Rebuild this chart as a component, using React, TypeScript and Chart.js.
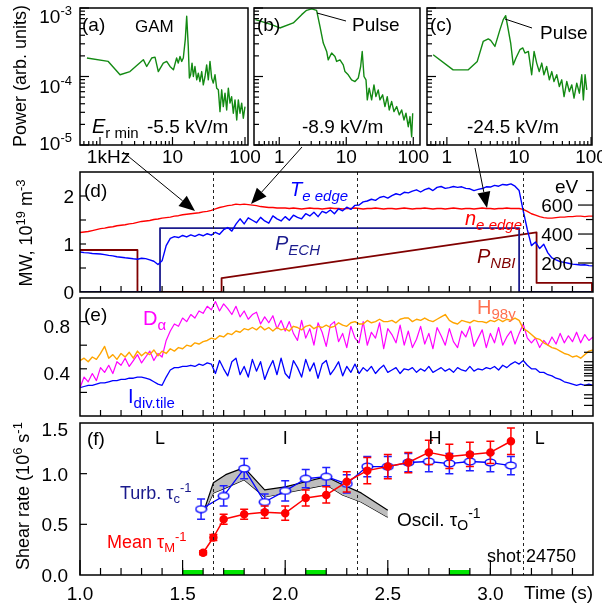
import React, { useEffect, useRef } from "react";
import { Chart, registerables } from "chart.js";

Chart.register(...registerables);

const FONT = '"Liberation Sans", Arial, Helvetica, sans-serif';

// ===== Spectra (a)-(c): frequency (kHz) and power (arb. units) =====
const A_FREQ = [0.66, 1.30, 1.89, 2.59, 3.96, 4.41, 5.16, 5.74, 6.37, 7.46, 8.32, 9.24, 10.3, 11.4, 12.0, 12.7, 13.4, 14.1, 15.0, 15.7, 16.5, 17.1, 17.8, 18.6, 19.4, 20.4, 21.6, 22.7, 23.9, 25.3, 26.6, 28.1, 29.6, 31.2, 32.9, 34.7, 36.5, 38.6, 40.7, 42.9, 45.2, 47.7, 50.2, 53.0, 55.9, 58.9, 62.1, 65.4, 69.0, 72.8, 76.9, 80.9, 85.3, 90.0, 94.8, 100];
const A_POW = [1.86e-4, 1.66e-4, 1.06e-4, 1.18e-4, 1.76e-4, 1.40e-4, 1.86e-4, 1.92e-4, 1.18e-4, 1.57e-4, 1.66e-4, 1.40e-4, 1.25e-4, 1.86e-4, 1.57e-4, 1.96e-4, 1.66e-4, 1.86e-4, 3.45e-4, 7.56e-4, 2.75e-4, 9.48e-5, 1.06e-4, 1.57e-4, 1.0e-4, 1.40e-4, 8.95e-5, 1.12e-4, 8.45e-5, 1.18e-4, 7.55e-5, 1.0e-4, 1.48e-4, 8.95e-5, 1.66e-4, 9.48e-5, 8.0e-5, 1.06e-4, 6.76e-5, 6.39e-5, 3.07e-5, 6.39e-5, 3.64e-5, 5.71e-5, 3.25e-5, 6.76e-5, 4.08e-5, 5.09e-5, 2.91e-5, 4.56e-5, 2.32e-5, 4.56e-5, 2.91e-5, 4.08e-5, 2.46e-5, 3.64e-5];
const B_FREQ = [0.44, 0.77, 1.02, 1.62, 2.16, 2.56, 3.05, 3.61, 4.05, 4.54, 5.10, 5.38, 6.05, 6.78, 7.19, 8.06, 9.02, 9.57, 10.7, 12.0, 13.5, 15.1, 16.4, 17.3, 18.4, 19.7, 20.6, 22.0, 23.9, 25.9, 27.7, 30.0, 31.8, 34.9, 37.8, 40.9, 43.8, 47.6, 51.5, 56.5, 61.8, 67.1, 72.6, 77.8, 84.2, 89.3, 94.6, 98.0];
const B_POW = [6.76e-4, 5.71e-4, 5.11e-4, 6.05e-4, 8.0e-4, 9.25e-4, 9.70e-4, 9.25e-4, 5.40e-4, 3.08e-4, 2.32e-4, 1.75e-4, 2.20e-4, 1.96e-4, 1.66e-4, 1.75e-4, 1.48e-4, 1.18e-4, 1.06e-4, 8.95e-5, 8.45e-5, 9.48e-5, 1.40e-4, 2.32e-4, 1.0e-4, 8.95e-5, 4.56e-5, 6.76e-5, 4.56e-5, 7.55e-5, 5.09e-5, 6.38e-5, 4.56e-5, 5.40e-5, 3.64e-5, 5.09e-5, 3.25e-5, 4.31e-5, 3.07e-5, 3.64e-5, 2.75e-5, 3.25e-5, 2.32e-5, 2.91e-5, 1.85e-5, 2.60e-5, 1.32e-5, 2.91e-5];
const C_FREQ = [0.645, 1.22, 1.98, 2.64, 3.19, 3.75, 4.05, 4.64, 5.45, 6.05, 6.54, 7.10, 7.67, 8.33, 9.08, 10.3, 11.3, 12.1, 13.5, 15.0, 16.2, 17.6, 19.1, 20.7, 22.2, 24.2, 26.4, 28.5, 30.6, 33.4, 36.3, 39.2, 42.2, 46.0, 50.0, 54.0, 58.0, 63.3, 68.8, 74.3, 78.2, 82.6, 87.1];
const C_POW = [2.08e-4, 1.25e-4, 1.25e-4, 1.66e-4, 3.25e-4, 3.53e-4, 3.37e-4, 2.75e-4, 4.83e-4, 6.76e-4, 7.74e-4, 4.83e-4, 3.08e-4, 1.48e-4, 1.86e-4, 2.46e-4, 2.61e-4, 2.20e-4, 2.32e-4, 1.06e-4, 2.32e-4, 1.57e-4, 1.18e-4, 1.57e-4, 1.06e-4, 1.40e-4, 8.95e-5, 1.18e-4, 8.45e-5, 1.06e-4, 7.14e-5, 8.95e-5, 5.09e-5, 8.45e-5, 6.03e-5, 7.55e-5, 4.83e-5, 8.0e-5, 5.71e-5, 1.06e-4, 4.56e-5, 1.06e-4, 6.38e-5];
const TOP_X_MAJOR = [1, 10, 100];
const TOP_X_MINOR = [0.5, 0.6, 0.7, 0.8, 0.9, 2, 3, 4, 5, 6, 7, 8, 9, 20, 30, 40, 50, 60, 70, 80, 90];
const TOP_Y_MAJOR = [1e-5, 1e-4, 1e-3];
const TOP_Y_MINOR = [2e-5, 3e-5, 4e-5, 5e-5, 6e-5, 7e-5, 8e-5, 9e-5, 2e-4, 3e-4, 4e-4, 5e-4, 6e-4, 7e-4, 8e-4, 9e-4];

// ===== Time traces (d),(e) =====
const TIME = [
  1.00, 1.02, 1.04, 1.06, 1.08, 1.10, 1.12, 1.14, 1.16, 1.18,
  1.20, 1.22, 1.24, 1.26, 1.28, 1.30, 1.32, 1.34, 1.36, 1.38,
  1.40, 1.42, 1.44, 1.46, 1.48, 1.50, 1.52, 1.54, 1.56, 1.58,
  1.60, 1.62, 1.64, 1.66, 1.68, 1.70, 1.72, 1.74, 1.76, 1.78,
  1.80, 1.82, 1.84, 1.86, 1.88, 1.90, 1.92, 1.94, 1.96, 1.98,
  2.00, 2.02, 2.04, 2.06, 2.08, 2.10, 2.12, 2.14, 2.16, 2.18,
  2.20, 2.22, 2.24, 2.26, 2.28, 2.30, 2.32, 2.34, 2.36, 2.38,
  2.40, 2.42, 2.44, 2.46, 2.48, 2.50, 2.52, 2.54, 2.56, 2.58,
  2.60, 2.62, 2.64, 2.66, 2.68, 2.70, 2.72, 2.74, 2.76, 2.78,
  2.80, 2.82, 2.84, 2.86, 2.88, 2.90, 2.92, 2.94, 2.96, 2.98,
  3.00, 3.02, 3.04, 3.06, 3.08, 3.10, 3.12, 3.14, 3.16, 3.18,
  3.20, 3.22, 3.24, 3.26, 3.28, 3.30, 3.32, 3.34, 3.36, 3.38,
  3.40, 3.42, 3.44, 3.46, 3.48, 3.50,
];
const NE_EDGE = [
  1.24, 1.25, 1.26, 1.28, 1.30, 1.32, 1.33, 1.35, 1.36, 1.38,
  1.39, 1.40, 1.42, 1.43, 1.45, 1.47, 1.48, 1.49, 1.51, 1.52,
  1.54, 1.55, 1.56, 1.58, 1.59, 1.61, 1.62, 1.63, 1.64, 1.65,
  1.67, 1.68, 1.70, 1.73, 1.76, 1.78, 1.80, 1.81, 1.83, 1.82,
  1.83, 1.82, 1.81, 1.80, 1.78, 1.77, 1.76, 1.76, 1.75, 1.75,
  1.75, 1.74, 1.75, 1.74, 1.73, 1.74, 1.75, 1.74, 1.74, 1.73,
  1.74, 1.75, 1.74, 1.74, 1.73, 1.74, 1.74, 1.75, 1.74, 1.73,
  1.74, 1.74, 1.75, 1.74, 1.73, 1.74, 1.74, 1.73, 1.74, 1.75,
  1.74, 1.73, 1.74, 1.74, 1.75, 1.74, 1.73, 1.74, 1.74, 1.73,
  1.74, 1.75, 1.74, 1.73, 1.74, 1.74, 1.73, 1.74, 1.75, 1.74,
  1.74, 1.73, 1.74, 1.74, 1.75, 1.74, 1.74, 1.74, 1.72, 1.68,
  1.63, 1.60, 1.57, 1.55, 1.54, 1.54, 1.55, 1.56, 1.56, 1.57,
  1.57, 1.58, 1.58, 1.57, 1.58, 1.58,
];
const TE_EDGE = [
  276, 272, 270, 266, 264, 262, 258, 253, 249, 243,
  240, 236, 233, 229, 226, 233, 230, 222, 212, 190,
  215, 320, 370, 382, 376, 390, 380, 394, 384, 398,
  388, 402, 392, 412, 398, 430, 445, 420, 468, 505,
  470, 512, 495, 478, 515, 490, 475, 525, 505, 490,
  520, 495, 530, 515, 505, 540, 525, 550, 520, 556,
  545, 566, 540, 574, 560, 585, 570, 598, 600, 622,
  628, 640, 632, 652, 660, 648, 665, 678, 670, 688,
  684, 696, 705, 690, 706, 716, 700, 722, 728, 715,
  720, 728, 722, 726, 715, 712, 700, 708, 714, 726,
  724, 736, 730, 742, 738, 746, 730, 700, 560, 430,
  320, 345, 300, 330, 270, 235, 222, 210, 204, 198,
  192, 190, 186, 188, 182, 180,
];
const PECH_T = [1.0, 1.39, 1.39, 3.14, 3.14, 3.5];
const PECH_V = [0, 0, 1.33, 1.33, 0, 0];
const PNBI_T = [1.0, 1.28, 1.28, 1.69, 1.69, 3.225, 3.225, 3.495, 3.495];
const PNBI_V = [0.875, 0.875, 0, 0, 0.29, 1.24, 0.19, 0.19, 0];
const D_ALPHA = [
  0.24, 0.33, 0.29, 0.36, 0.30, 0.41, 0.37, 0.43, 0.36, 0.46,
  0.43, 0.49, 0.42, 0.47, 0.52, 0.45, 0.50, 0.55, 0.47, 0.53,
  0.50, 0.64, 0.72, 0.78, 0.76, 0.83, 0.80, 0.86, 0.83, 0.89,
  0.87, 0.93, 0.90, 0.97, 0.89, 0.95, 0.91, 0.86, 0.93, 0.84,
  0.89, 0.82, 0.86, 0.88, 0.78, 0.84, 0.79, 0.85, 0.74, 0.81,
  0.72, 0.80, 0.70, 0.64, 0.81, 0.66, 0.74, 0.60, 0.79, 0.71,
  0.59, 0.77, 0.80, 0.63, 0.70, 0.58, 0.76, 0.66, 0.62, 0.80,
  0.60, 0.71, 0.66, 0.79, 0.57, 0.74, 0.69, 0.62, 0.77, 0.60,
  0.72, 0.58, 0.65, 0.76, 0.61, 0.70, 0.57, 0.75, 0.68, 0.60,
  0.74, 0.63, 0.58, 0.72, 0.67, 0.76, 0.59, 0.66, 0.73, 0.58,
  0.70, 0.62, 0.75, 0.60, 0.67, 0.72, 0.61, 0.70, 0.78, 0.66,
  0.62, 0.66, 0.58, 0.64, 0.60, 0.67, 0.61, 0.70, 0.62, 0.68,
  0.63, 0.71, 0.62, 0.69, 0.64, 0.67,
];
const H98Y = [
  0.47, 0.49, 0.46, 0.50, 0.48, 0.53, 0.59, 0.49, 0.52, 0.48,
  0.53, 0.50, 0.54, 0.49, 0.55, 0.51, 0.54, 0.52, 0.56, 0.51,
  0.55, 0.53, 0.57, 0.55, 0.58, 0.57, 0.60, 0.59, 0.62, 0.61,
  0.63, 0.64, 0.66, 0.65, 0.68, 0.67, 0.70, 0.69, 0.72, 0.71,
  0.74, 0.73, 0.75, 0.73, 0.76, 0.73, 0.75, 0.72, 0.75, 0.73,
  0.74, 0.72, 0.76, 0.75, 0.73, 0.76, 0.77, 0.74, 0.76, 0.75,
  0.77, 0.75, 0.76, 0.79, 0.77, 0.76, 0.79, 0.80, 0.78, 0.78,
  0.81, 0.79, 0.80, 0.82, 0.80, 0.80, 0.81, 0.79, 0.82, 0.83,
  0.83, 0.80, 0.82, 0.81, 0.83, 0.81, 0.80, 0.82, 0.84, 0.86,
  0.81, 0.79, 0.78, 0.81, 0.80, 0.79, 0.81, 0.80, 0.80, 0.79,
  0.81, 0.80, 0.82, 0.80, 0.82, 0.81, 0.83, 0.81, 0.74, 0.72,
  0.69, 0.66, 0.65, 0.62, 0.60, 0.58, 0.57, 0.55, 0.53, 0.52,
  0.50, 0.51, 0.49, 0.52, 0.55, 0.56,
];
const I_DIV = [
  0.24, 0.25, 0.26, 0.26, 0.27, 0.28, 0.28, 0.29, 0.30, 0.30,
  0.31, 0.31, 0.32, 0.32, 0.33, 0.33, 0.32, 0.31, 0.29, 0.27,
  0.26, 0.33, 0.39, 0.41, 0.41, 0.42, 0.42, 0.43, 0.42, 0.44,
  0.43, 0.45, 0.44, 0.36, 0.47, 0.40, 0.34, 0.46, 0.49, 0.35,
  0.42, 0.33, 0.48, 0.38, 0.46, 0.31, 0.40, 0.47, 0.35, 0.49,
  0.36, 0.32, 0.47, 0.41, 0.33, 0.48, 0.38, 0.45, 0.32, 0.44,
  0.47, 0.35, 0.40, 0.46, 0.34, 0.42, 0.37, 0.44, 0.36, 0.41,
  0.38, 0.42, 0.36, 0.40, 0.43, 0.37, 0.39, 0.41, 0.36, 0.40,
  0.39, 0.41, 0.37, 0.40, 0.38, 0.42, 0.37, 0.39, 0.41, 0.38,
  0.40, 0.37, 0.41, 0.39, 0.38, 0.42, 0.38, 0.40, 0.39, 0.41,
  0.40, 0.42, 0.39, 0.43, 0.41, 0.44, 0.46, 0.44, 0.47, 0.43,
  0.40, 0.40, 0.37, 0.37, 0.35, 0.34, 0.32, 0.31, 0.29, 0.28,
  0.27, 0.26, 0.27, 0.26, 0.27, 0.26,
];

// ===== Shear rates (f) =====
const TURB_T = [1.59, 1.70, 1.80, 1.90, 2.00, 2.10, 2.20, 2.30, 2.40, 2.50, 2.60, 2.70, 2.80, 2.90, 3.00, 3.10];
const TURB_V = [0.65, 0.78, 1.05, 0.72, 0.83, 0.95, 0.97, 0.90, 1.07, 1.07, 1.11, 1.12, 1.10, 1.12, 1.11, 1.08];
const TURB_E = [0.10, 0.10, 0.10, 0.08, 0.10, 0.09, 0.09, 0.09, 0.10, 0.10, 0.09, 0.10, 0.10, 0.09, 0.09, 0.09];
const MEAN_T = [1.60, 1.65, 1.70, 1.80, 1.90, 2.00, 2.10, 2.20, 2.30, 2.40, 2.50, 2.60, 2.70, 2.80, 2.90, 3.00, 3.10];
const MEAN_V = [0.22, 0.37, 0.55, 0.60, 0.62, 0.61, 0.76, 0.79, 0.92, 1.03, 1.07, 1.11, 1.21, 1.17, 1.19, 1.21, 1.32];
const MEAN_E = [0.02, 0.03, 0.05, 0.05, 0.06, 0.07, 0.08, 0.08, 0.10, 0.13, 0.12, 0.10, 0.12, 0.12, 0.12, 0.11, 0.13];
const OSC_T = [1.61, 1.65, 1.71, 1.80, 1.90, 2.00, 2.10, 2.20, 2.28, 2.37, 2.50];
const OSC_HI = [0.67, 0.91, 0.99, 1.06, 0.84, 0.87, 0.92, 0.97, 0.89, 0.81, 0.64];
const OSC_LO = [0.64, 0.81, 0.86, 0.94, 0.77, 0.81, 0.85, 0.89, 0.79, 0.72, 0.57];
const GREEN_WINDOWS = [[1.5, 1.6], [1.7, 1.8], [2.1, 2.2], [2.8, 2.9]];
const TRANSITIONS = [1.65, 2.35, 3.16];
const PHASES = [["L", 1.39], ["I", 2.0], ["H", 2.73], ["L", 3.24]];

// ===== Axis ticks =====
const TIME_TICKS = [1.0, 1.5, 2.0, 2.5, 3.0];
const TIME_MINOR = [1.1, 1.2, 1.3, 1.4, 1.5, 1.6, 1.7, 1.8, 1.9, 2.0, 2.1, 2.2, 2.3, 2.4, 2.5, 2.6, 2.7, 2.8, 2.9, 3.0, 3.1, 3.2, 3.3, 3.4];
const D_LEFT_TICKS = [0.5, 1, 1.5, 2];
const D_LEFT_LABELS = [0, 1, 2];
const D_RIGHT_MINOR = [100, 300, 500, 700];
const D_RIGHT_LABELS = [200, 400, 600];
const E_LEFT_TICKS = [0.2, 0.4, 0.6, 0.8];
const E_LEFT_LABELS = [0.4, 0.8];
const E_RIGHT_TICKS = [0.54, 0.46, 0.43, 0.41, 0.39, 0.36, 0.34, 0.30, 0.26, 0.18, 0.15, 0.09];
const F_LEFT_TICKS = [0.5, 1.0];
const F_LEFT_LABELS = [0, 0.5, 1.0, 1.5];

// ---------------------------------------------------------------
type Part = { t: string; s: number; i?: boolean; dy?: number };
const P = (t: string, s: number, i = false, dy = 0): Part => ({ t, s, i, dy });
type TextItem = { x: number; y: number; parts: Part[]; color?: string; align?: string; rot?: boolean };
type TickSet = { axis: string; side: string; values: number[]; len: number };
type LabelItem = { axis: string; side: string; value: number; parts: Part[]; gap: number; dy?: number; dx?: number };
type DecorCfg = { ox: number; oy: number; vlines?: number[]; ticks: TickSet[]; labels: LabelItem[]; texts: TextItem[] };

const fontOf = (p: Part) => `${p.i ? "italic " : ""}${p.s}px ${FONT}`;

function drawRich(ctx: CanvasRenderingContext2D, parts: Part[], x: number, y: number, align = "left", color = "#000") {
  let w = 0;
  for (const p of parts) { ctx.font = fontOf(p); w += ctx.measureText(p.t).width; }
  let cx = align === "left" ? x : align === "center" ? x - w / 2 : x - w;
  ctx.fillStyle = color;
  ctx.textAlign = "left";
  ctx.textBaseline = "alphabetic";
  for (const p of parts) {
    ctx.font = fontOf(p);
    ctx.fillText(p.t, cx, y + (p.dy || 0));
    cx += ctx.measureText(p.t).width;
  }
}

function makeDecor(cfg: DecorCfg) {
  return {
    id: "decor",
    beforeDatasetDraw(chart: any, args: any) {
      const ds: any = chart.data.datasets[args.index];
      if (!ds.errorBars) return;
      const ctx = chart.ctx;
      const ys = chart.scales.y;
      ctx.save();
      ctx.strokeStyle = ds.errorColor;
      ctx.lineWidth = 1.5;
      args.meta.data.forEach((el: any, i: number) => {
        const d = ds.data[i];
        const e = ds.errorBars[i];
        const y0 = ys.getPixelForValue(d.y - e);
        const y1 = ys.getPixelForValue(d.y + e);
        ctx.beginPath();
        ctx.moveTo(el.x, y0); ctx.lineTo(el.x, y1);
        ctx.moveTo(el.x - 4, y0); ctx.lineTo(el.x + 4, y0);
        ctx.moveTo(el.x - 4, y1); ctx.lineTo(el.x + 4, y1);
        ctx.stroke();
      });
      ctx.restore();
    },
    afterDatasetsDraw(chart: any) {
      const ctx: CanvasRenderingContext2D = chart.ctx;
      const a = chart.chartArea;
      ctx.save();
      if (cfg.vlines) {
        const xs = chart.scales.x;
        ctx.strokeStyle = "#222";
        ctx.lineWidth = 1;
        ctx.setLineDash([3, 3]);
        for (const v of cfg.vlines) {
          const px = Math.round(xs.getPixelForValue(v)) + 0.5;
          ctx.beginPath(); ctx.moveTo(px, a.top); ctx.lineTo(px, a.bottom); ctx.stroke();
        }
        ctx.setLineDash([]);
      }
      ctx.strokeStyle = "#000";
      ctx.lineWidth = 1.2;
      for (const t of cfg.ticks) {
        const sc = chart.scales[t.axis];
        for (const v of t.values) {
          const p = sc.getPixelForValue(v);
          ctx.beginPath();
          if (t.side === "bottom") {
            if (p < a.left - 0.5 || p > a.right + 0.5) continue;
            ctx.moveTo(p, a.bottom); ctx.lineTo(p, a.bottom - t.len);
          } else if (t.side === "left") {
            if (p < a.top - 0.5 || p > a.bottom + 0.5) continue;
            ctx.moveTo(a.left, p); ctx.lineTo(a.left + t.len, p);
          } else {
            if (p < a.top - 0.5 || p > a.bottom + 0.5) continue;
            ctx.moveTo(a.right, p); ctx.lineTo(a.right - t.len, p);
          }
          ctx.stroke();
        }
      }
      ctx.lineWidth = 1.5;
      ctx.strokeRect(a.left, a.top, a.right - a.left, a.bottom - a.top);
      for (const l of cfg.labels) {
        const sc = chart.scales[l.axis];
        const p = sc.getPixelForValue(l.value);
        const size = l.parts[0].s;
        if (l.side === "bottom") drawRich(ctx, l.parts, p + (l.dx || 0), a.bottom + l.gap, "center");
        else if (l.side === "left") drawRich(ctx, l.parts, a.left - l.gap, p + (l.dy ?? size * 0.36), "right");
        else drawRich(ctx, l.parts, a.right - l.gap, p + (l.dy ?? size * 0.36), "right");
      }
      ctx.translate(-cfg.ox, -cfg.oy);
      for (const t of cfg.texts) {
        if (t.rot) {
          ctx.save();
          ctx.translate(t.x, t.y);
          ctx.rotate(-Math.PI / 2);
          drawRich(ctx, t.parts, 0, 0, "center", t.color || "#000");
          ctx.restore();
        } else drawRich(ctx, t.parts, t.x, t.y, t.align || "left", t.color || "#000");
      }
      ctx.restore();
    },
  };
}

const xy = (xs: number[], ys: (number | null)[]) => xs.map((x, i) => ({ x, y: ys[i] }));

const base = (padding: any) => ({
  animation: false,
  responsive: false,
  maintainAspectRatio: false,
  events: [],
  layout: { padding },
  plugins: { legend: { display: false }, tooltip: { enabled: false } },
  elements: { point: { radius: 0 }, line: { tension: 0, borderJoinStyle: "round" } },
});

const GREEN = "#138a13";
const tickTxt = (s: string) => [P(s, 19)];

function topTicks(): TickSet[] {
  return [
    { axis: "x", side: "bottom", values: TOP_X_MINOR, len: 4 },
    { axis: "x", side: "bottom", values: TOP_X_MAJOR, len: 8 },
    { axis: "y", side: "left", values: TOP_Y_MINOR, len: 5 },
    { axis: "y", side: "left", values: TOP_Y_MAJOR, len: 9 },
  ];
}

function spectrumConfig(freq: number[], pow: number[], xmin: number, xmax: number, padding: any, decor: DecorCfg) {
  return {
    type: "line",
    data: { datasets: [{ data: xy(freq, pow), borderColor: GREEN, borderWidth: 1.4, pointRadius: 0 }] },
    options: {
      ...base(padding),
      scales: {
        x: { type: "logarithmic", min: xmin, max: xmax, display: false },
        y: { type: "logarithmic", min: 1e-5, max: 1e-3, display: false },
      },
    },
    plugins: [makeDecor(decor)],
  };
}

const buildA = () =>
  spectrumConfig(A_FREQ, A_POW, 0.53, 110, { left: 80, right: 22, top: 8, bottom: 25 }, {
    ox: 0, oy: 0,
    ticks: topTicks(),
    labels: [
      { axis: "y", side: "left", value: 1e-3, parts: [P("10", 19), P("-3", 13, false, -8)], gap: 8, dy: 15 },
      { axis: "y", side: "left", value: 1e-4, parts: [P("10", 19), P("-4", 13, false, -8)], gap: 8, dy: 16.5 },
      { axis: "y", side: "left", value: 1e-5, parts: [P("10", 19), P("-5", 13, false, -8)], gap: 8, dy: 5 },
      { axis: "x", side: "bottom", value: 1, parts: tickTxt("1kHz"), gap: 18, dx: 8.5 },
      { axis: "x", side: "bottom", value: 10, parts: tickTxt("10"), gap: 18 },
      { axis: "x", side: "bottom", value: 100, parts: tickTxt("100"), gap: 18 },
    ],
    texts: [
      { x: 82, y: 31, parts: [P("(a)", 19)] },
      { x: 135, y: 32, parts: [P("GAM", 17)] },
      { x: 92, y: 133, parts: [P("E", 20, true), P("r min", 15, false, 5)] },
      { x: 147, y: 133, parts: [P("-5.5 kV/m", 19)] },
      { x: 26, y: 76, rot: true, parts: [P("Power (arb. units)", 18)] },
    ],
  });

const buildB = () =>
  spectrumConfig(B_FREQ, B_POW, 0.42, 126, { left: 80, right: 24, top: 8, bottom: 25 }, {
    ox: 174, oy: 0,
    ticks: topTicks(),
    labels: [
      { axis: "x", side: "bottom", value: 1, parts: tickTxt("1"), gap: 18 },
      { axis: "x", side: "bottom", value: 10, parts: tickTxt("10"), gap: 18 },
      { axis: "x", side: "bottom", value: 100, parts: tickTxt("100"), gap: 18 },
    ],
    texts: [
      { x: 257, y: 31, parts: [P("(b)", 19)] },
      { x: 352, y: 31, parts: [P("Pulse", 19)] },
      { x: 302, y: 133, parts: [P("-8.9 kV/m", 19)] },
    ],
  });

const buildC = () =>
  spectrumConfig(C_FREQ, C_POW, 0.53, 103, { left: 80, right: 10, top: 8, bottom: 25 }, {
    ox: 347, oy: 0,
    ticks: topTicks(),
    labels: [
      { axis: "x", side: "bottom", value: 1, parts: tickTxt("1"), gap: 18 },
      { axis: "x", side: "bottom", value: 10, parts: tickTxt("10"), gap: 18 },
      { axis: "x", side: "bottom", value: 100, parts: tickTxt("100"), gap: 18 },
    ],
    texts: [
      { x: 430, y: 31, parts: [P("(c)", 19)] },
      { x: 540, y: 39, parts: [P("Pulse", 19)] },
      { x: 467, y: 133, parts: [P("-24.5 kV/m", 19)] },
    ],
  });

const timeScale = { type: "linear", min: 1.0, max: 3.5, display: false };

const buildD = () => ({
  type: "line",
  data: {
    datasets: [
      { data: xy(TIME, TE_EDGE), yAxisID: "y2", borderColor: "#0000ff", borderWidth: 1.4 },
      { data: xy(TIME, NE_EDGE), yAxisID: "y", borderColor: "#ff0000", borderWidth: 1.4 },
      { data: xy(PECH_T, PECH_V), yAxisID: "y", borderColor: "#1c1c8e", borderWidth: 1.8 },
      { data: xy(PNBI_T, PNBI_V), yAxisID: "y", borderColor: "#800000", borderWidth: 1.8 },
    ],
  },
  options: {
    ...base({ left: 80, right: 9, top: 12, bottom: 13 }),
    scales: {
      x: timeScale,
      y: { type: "linear", min: 0, max: 2.5, display: false },
      y2: { type: "linear", min: 0, max: 828, display: false, position: "right" },
    },
  },
  plugins: [
    makeDecor({
      ox: 0, oy: 160,
      vlines: TRANSITIONS,
      ticks: [
        { axis: "x", side: "bottom", values: TIME_MINOR, len: 6 },
        { axis: "y", side: "left", values: D_LEFT_TICKS, len: 6 },
        { axis: "y2", side: "right", values: D_RIGHT_MINOR, len: 7 },
        { axis: "y2", side: "right", values: D_RIGHT_LABELS, len: 15 },
      ],
      labels: [
        ...D_LEFT_LABELS.map((v) => ({ axis: "y", side: "left", value: v, parts: tickTxt(String(v)), gap: 6 })),
        ...D_RIGHT_LABELS.map((v) => ({ axis: "y2", side: "right", value: v, parts: tickTxt(String(v)), gap: 20 })),
      ],
      texts: [
        { x: 84, y: 197, parts: [P("(d)", 19)] },
        { x: 290, y: 196, color: "#0000ff", parts: [P("T", 20, true), P("e edge", 15, true, 5)] },
        { x: 275, y: 250, color: "#1c1c8e", parts: [P("P", 20, true), P("ECH", 15, true, 5)] },
        { x: 465, y: 225, color: "#ff0000", parts: [P("n", 20, true), P("e edge", 15, true, 5)] },
        { x: 477, y: 263, color: "#800000", parts: [P("P", 20, true), P("NBI", 15, true, 5)] },
        { x: 555, y: 193, parts: [P("eV", 19)] },
        { x: 32, y: 233, rot: true, parts: [P("MW, 10", 18), P("19", 13, false, -7), P(" m", 18), P("-3", 13, false, -7)] },
      ],
    }),
  ],
});

const buildE = () => ({
  type: "line",
  data: {
    datasets: [
      { data: xy(TIME, H98Y), borderColor: "#ffa500", borderWidth: 1.4 },
      { data: xy(TIME, D_ALPHA), borderColor: "#ff00ff", borderWidth: 1.2 },
      { data: xy(TIME, I_DIV), borderColor: "#0000ff", borderWidth: 1.3 },
    ],
  },
  options: {
    ...base({ left: 80, right: 9, top: 12, bottom: 10 }),
    scales: { x: timeScale, y: { type: "linear", min: 0, max: 1.0, display: false } },
  },
  plugins: [
    makeDecor({
      ox: 0, oy: 286,
      vlines: TRANSITIONS,
      ticks: [
        { axis: "x", side: "bottom", values: TIME_MINOR, len: 6 },
        { axis: "y", side: "left", values: E_LEFT_TICKS, len: 7 },
        { axis: "y", side: "right", values: E_RIGHT_TICKS, len: 9 },
      ],
      labels: E_LEFT_LABELS.map((v) => ({ axis: "y", side: "left", value: v, parts: tickTxt(v.toFixed(1)), gap: 10, dy: 11 })),
      texts: [
        { x: 84, y: 321, parts: [P("(e)", 19)] },
        { x: 143, y: 325, color: "#ff00ff", parts: [P("D", 20), P("α", 15, false, 5)] },
        { x: 477, y: 314, color: "#ff7050", parts: [P("H", 20), P("98y", 15, false, 5)] },
        { x: 128, y: 403, color: "#0000ff", parts: [P("I", 20), P("div.tile", 15, false, 5)] },
      ],
    }),
  ],
});

function ellipseMarker() {
  const c = document.createElement("canvas");
  c.width = 13; c.height = 9;
  const g = c.getContext("2d")!;
  g.fillStyle = "#fff";
  g.strokeStyle = "#0000ff";
  g.lineWidth = 1.4;
  g.beginPath();
  g.ellipse(6.5, 4.5, 5.3, 3.4, 0, 0, Math.PI * 2);
  g.fill();
  g.stroke();
  return c;
}

const buildF = () => {
  const green: any[] = [];
  GREEN_WINDOWS.forEach(([s, e]) => { green.push({ x: s, y: 0.025 }, { x: e, y: 0.025 }, { x: e + 0.01, y: null }); });
  return {
    type: "line",
    data: {
      datasets: [
        { data: xy(MEAN_T, MEAN_V), borderColor: "#ff0000", borderWidth: 1.5, pointRadius: 3.5, pointStyle: "circle", pointBackgroundColor: "#ff0000", pointBorderColor: "#ff0000", errorBars: MEAN_E, errorColor: "#ff0000" },
        { data: xy(TURB_T, TURB_V), borderColor: "#0000ff", borderWidth: 1.3, pointRadius: 5, pointStyle: ellipseMarker(), errorBars: TURB_E, errorColor: "#2020ff" },
        { data: xy(OSC_T, OSC_HI), borderColor: "#000", borderWidth: 1.2, backgroundColor: "#bdbdbd", fill: "+1" },
        { data: xy(OSC_T, OSC_LO), borderColor: "#000", borderWidth: 1.2, fill: false },
        { data: green, borderColor: "#00e600", borderWidth: 5, borderCapStyle: "butt", spanGaps: false },
      ],
    },
    options: {
      ...base({ left: 80, right: 9, top: 12, bottom: 34 }),
      scales: { x: timeScale, y: { type: "linear", min: 0, max: 1.5, display: false } },
    },
    plugins: [
      makeDecor({
        ox: 0, oy: 411,
        vlines: TRANSITIONS,
        ticks: [
          { axis: "x", side: "bottom", values: TIME_MINOR, len: 7 },
          { axis: "x", side: "bottom", values: TIME_TICKS, len: 15 },
          { axis: "y", side: "left", values: F_LEFT_TICKS, len: 7 },
        ],
        labels: [
          ...F_LEFT_LABELS.map((v) => ({ axis: "y", side: "left", value: v, parts: tickTxt(v.toFixed(1)), gap: 12, dy: v === 1.5 ? 13 : undefined })),
          ...TIME_TICKS.map((v) => ({ axis: "x", side: "bottom", value: v, parts: tickTxt(v.toFixed(1)), gap: 25 })),
        ],
        texts: [
          { x: 87, y: 445, parts: [P("(f)", 19)] },
          ...PHASES.map(([s, t]) => ({ x: 80 + ((t as number) - 1) * 205.2, y: 444, align: "center", parts: [P(s as string, 18)] })),
          { x: 120, y: 499, color: "#1a1a8c", parts: [P("Turb. τ", 18), P("c", 13, false, 4), P("-1", 13, false, -7)] },
          { x: 107, y: 548, color: "#ff0000", parts: [P("Mean τ", 18), P("M", 13, false, 4), P("-1", 13, false, -7)] },
          { x: 397, y: 526, parts: [P("Oscil. τ", 19), P("O", 14, false, 4), P("-1", 14, false, -8)] },
          { x: 487, y: 562, parts: [P("shot 24750", 18)] },
          { x: 593, y: 599, align: "right", parts: [P("Time (s)", 19)] },
          { x: 29, y: 496, rot: true, parts: [P("Shear rate (10", 18), P("6", 13, false, -7), P(" s", 18), P("-1", 13, false, -7)] },
        ],
      }),
    ],
  };
};

function ChartBox({ left, top, width, height, build }: { left: number; top: number; width: number; height: number; build: () => any }) {
  const ref = useRef<HTMLCanvasElement>(null);
  useEffect(() => {
    const chart = new Chart(ref.current as HTMLCanvasElement, build());
    return () => chart.destroy();
  }, []);
  return <canvas ref={ref} width={width} height={height} style={{ position: "absolute", left, top, width, height }} />;
}

const POINTERS = [
  { x1: 123, y1: 152, x2: 195, y2: 211, head: true },
  { x1: 302, y1: 147, x2: 251, y2: 204, head: true },
  { x1: 475, y1: 148, x2: 487, y2: 208, head: true },
  { x1: 317, y1: 13, x2: 346, y2: 21, head: false },
  { x1: 505, y1: 19, x2: 532, y2: 28, head: false },
];

function Pointer({ x1, y1, x2, y2, head }: any) {
  const dx = x2 - x1, dy = y2 - y1;
  const len = Math.hypot(dx, dy);
  const ux = dx / len, uy = dy / len;
  const L = 16, W = 6.5;
  const bx = x2 - ux * L, by = y2 - uy * L;
  return (
    <g>
      <line x1={x1} y1={y1} x2={head ? bx : x2} y2={head ? by : y2} stroke="#000" strokeWidth={1} />
      {head && <polygon points={`${x2},${y2} ${bx - uy * W},${by + ux * W} ${bx + uy * W},${by - ux * W}`} fill="#000" />}
    </g>
  );
}

export default function App() {
  return (
    <div style={{ position: "absolute", left: 0, top: 0, width: 602, height: 609, background: "#fff", overflow: "hidden" }}>
      <ChartBox left={0} top={0} width={270} height={170} build={buildA} />
      <ChartBox left={174} top={0} width={270} height={170} build={buildB} />
      <ChartBox left={347} top={0} width={255} height={170} build={buildC} />
      <ChartBox left={0} top={160} width={602} height={145} build={buildD} />
      <ChartBox left={0} top={286} width={602} height={140} build={buildE} />
      <ChartBox left={0} top={411} width={602} height={198} build={buildF} />
      <svg width={602} height={609} style={{ position: "absolute", left: 0, top: 0, pointerEvents: "none" }}>
        {POINTERS.map((p, i) => <Pointer key={i} {...p} />)}
      </svg>
    </div>
  );
}
